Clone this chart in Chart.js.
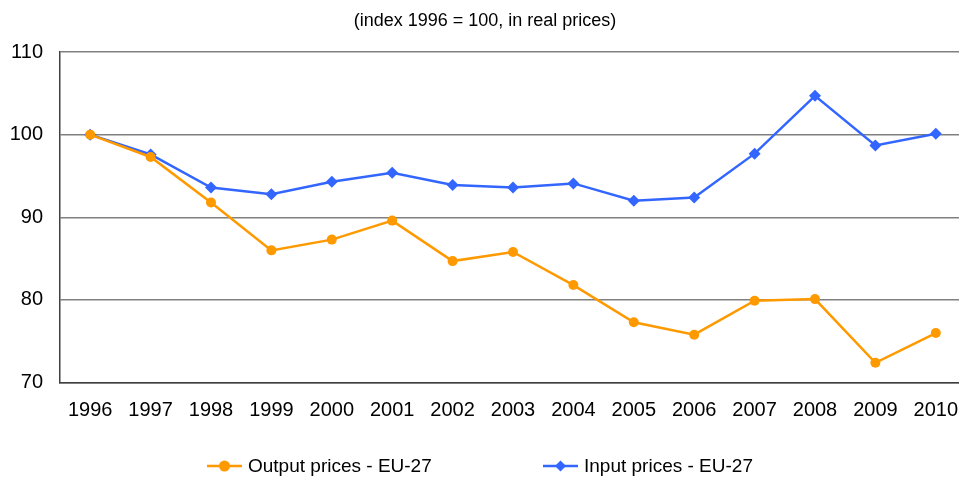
<!DOCTYPE html>
<html>
<head>
<meta charset="utf-8">
<script src="https://cdn.jsdelivr.net/npm/chart.js@4"></script>
<style>
    html, body { margin: 0; padding: 0; background: #fff; overflow: hidden; }
    #priceChart { position: absolute; left: 0; top: 0; width: 972px; height: 477px; }
</style>
</head>
<body>
<canvas id="priceChart" width="972" height="477"></canvas>
<script>
const years = ["1996", "1997", "1998", "1999", "2000", "2001", "2002", "2003",
    "2004", "2005", "2006", "2007", "2008", "2009", "2010"];
const outputPrices = [100, 97.3, 91.8, 86.0, 87.3, 89.6, 84.7, 85.8,
    81.8, 77.3, 75.8, 79.9, 80.1, 72.4, 76.0];
const inputPrices = [100, 97.6, 93.6, 92.8, 94.3, 95.4, 93.9, 93.6,
    94.1, 92.0, 92.4, 97.7, 104.7, 98.7, 100.1];
const yTicks = [70, 80, 90, 100, 110];
const subtitle = "(index 1996 = 100, in real prices)";

const orange = "#FF9900";
const blue = "#3366FF";
const font = "'Liberation Sans', Arial, sans-serif";

const series = [
    { label: "Output prices - EU-27", color: orange, style: "circle", data: outputPrices },
    { label: "Input prices - EU-27", color: blue, style: "rectRot", data: inputPrices }
];

// title on top, legend at the bottom (line with marker, like the original)
const decorations = {
    id: "decorations",
    afterDraw(chart) {
        const ctx = chart.ctx;
        ctx.save();
        ctx.fillStyle = "#000";
        ctx.font = "18px " + font;
        ctx.textAlign = "center";
        ctx.textBaseline = "middle";
        ctx.fillText(subtitle, 485, 21);

        const legendX = [207, 543];
        ctx.font = "19px " + font;
        ctx.textAlign = "left";
        series.forEach((s, i) => {
            const x = legendX[i];
            const y = 466;
            ctx.strokeStyle = s.color;
            ctx.lineWidth = 2.5;
            ctx.beginPath();
            ctx.moveTo(x, y);
            ctx.lineTo(x + 35, y);
            ctx.stroke();
            ctx.fillStyle = s.color;
            Chart.helpers.drawPoint(ctx, { pointStyle: s.style, radius: 5.5, rotation: 0 }, x + 17.5, y);
            ctx.fillStyle = "#000";
            ctx.fillText(s.label, x + 41, y + 1);
        });
        ctx.restore();
    }
};

new Chart(document.getElementById("priceChart"), {
    type: "line",
    data: {
        labels: years,
        datasets: series.map(s => ({
            label: s.label,
            data: s.data,
            borderColor: s.color,
            backgroundColor: s.color,
            borderWidth: 2.5,
            pointStyle: s.style,
            pointRadius: s.style === "circle" ? 5 : 6,
            pointBorderWidth: 0,
            tension: 0,
            fill: false
        }))
    },
    options: {
        responsive: false,
        animation: false,
        layout: { padding: { top: 52, bottom: 56, left: 0, right: 0 } },
        plugins: {
            legend: { display: false },
            title: { display: false },
            tooltip: { enabled: false }
        },
        scales: {
            x: {
                offset: true,
                grid: { display: false, drawTicks: false },
                border: { display: true, color: "#404040", width: 1.5 },
                ticks: { color: "#000", font: { family: font, size: 20 }, padding: 16, maxRotation: 0 },
                afterFit: s => {
                    s.height = 94.4 - 56;
                    s.paddingLeft = 0;
                    s.paddingRight = 0;
                }
            },
            y: {
                min: 70,
                max: 110,
                afterBuildTicks: s => { s.ticks = yTicks.map(v => ({ value: v })); },
                grid: { color: "#808080", lineWidth: 1.5, drawTicks: false },
                border: { display: true, color: "#404040", width: 1.5 },
                ticks: { color: "#000", font: { family: font, size: 20 }, padding: 17 },
                afterFit: s => { s.width = 60; }
            }
        }
    },
    plugins: [decorations]
});
</script>
</body>
</html>
